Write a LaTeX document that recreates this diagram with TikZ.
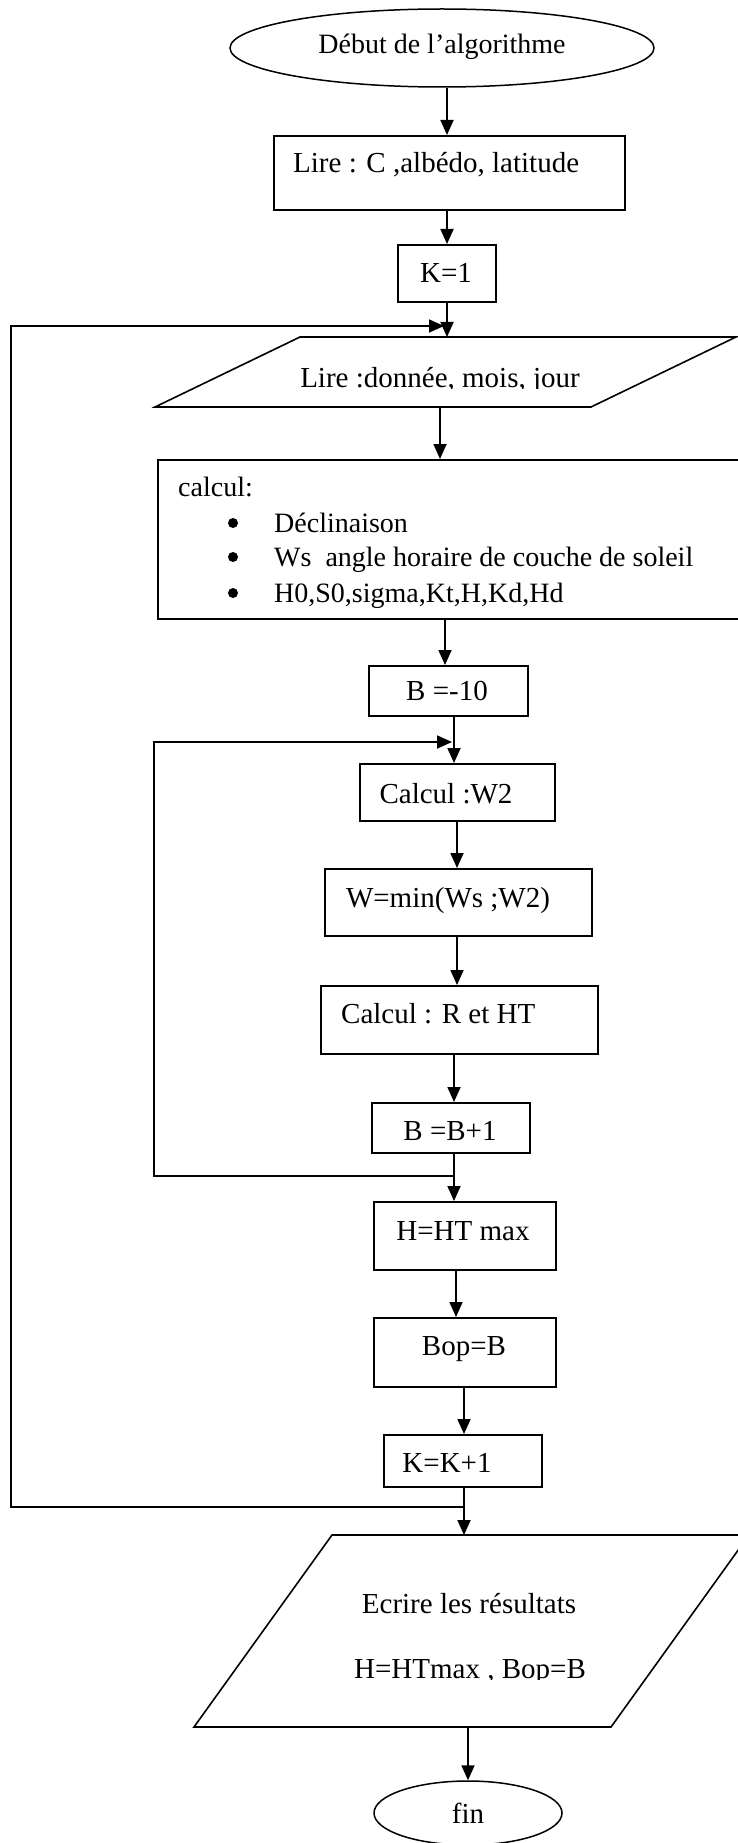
\documentclass[tikz,border=0pt]{standalone}
\usepackage{fontspec}
\setmainfont{Liberation Serif}
\usetikzlibrary{arrows.meta,shapes.geometric,calc}
\begin{document}
\begin{tikzpicture}[x=1pt,y=-1pt,
  box/.style={draw,line width=1.6pt,rectangle,inner sep=0pt,anchor=north west},
  oval/.style={draw,ellipse,line width=1.5pt,inner sep=0pt},
  shp/.style={draw,line width=1.6pt,line join=miter},
  con/.style={line width=1.8pt},
  arr/.style={con,-{Triangle[length=15pt,width=13pt]}},
  txt/.style={inner sep=0pt,anchor=base,font=\fontsize{29}{35}\selectfont},
  txtl/.style={txt,anchor=base west},
  itm/.style={txtl,font=\fontsize{28}{35}\selectfont}]
\useasboundingbox (0,0) rectangle (738,1843);
\clip (0,0) rectangle (738,1843);
% axes of the vertical connectors
\coordinate (axA) at (447,0);
\coordinate (axB) at (440,0);
\coordinate (axC) at (445,0);
\coordinate (axD) at (454,0);
\coordinate (axE) at (457,0);
\coordinate (axF) at (456,0);
\coordinate (axG) at (464,0);
\coordinate (axH) at (468,0);
% start
\node[oval,minimum width=424pt,minimum height=78pt] (start) at (442,48) {};
\node[txt,font=\fontsize{28}{34}\selectfont] (tstart) at (442,54) {Début de l’algorithme};
% Lire C
\node[box,minimum width=351pt,minimum height=74pt] (lire1) at (273,135) {};
\node[txtl] (tlire1) at (293,173) {Lire : C ,albédo, latitude};
% K=1
\node[box,minimum width=98pt,minimum height=57pt] (k1) at (397,244) {};
\node[txt] (tk1) at (446,283) {K=1};
% parallelogram 1
\draw[shp] (300,337) -- (736,337) -- (591,407) -- (155,407) -- cycle;
\coordinate (p1n) at (447,337);
\coordinate (p1s) at (440,407);
\begin{scope}
\clip (150,340) rectangle (740,388);
\node[txt] (tp1) at (440,387) {Lire :donnée, mois, jour};
\end{scope}
% calcul box
\node[box,minimum width=600pt,minimum height=159pt] (calc) at (157,459) {};
\node[itm] (tcalc) at (178,496) {calcul:};
\fill (233,523) circle (5pt);
\fill (233,557) circle (5pt);
\fill (233,593) circle (5pt);
\node[itm] (tc1) at (274,532) {Déclinaison};
\node[itm] (tc2) at (274,566) {Ws\ \ angle horaire de couche de soleil};
\node[itm] (tc3) at (274,602) {H0,S0,sigma,Kt,H,Kd,Hd};
% B=-10
\node[box,minimum width=159pt,minimum height=50pt] (b10) at (368,665) {};
\node[txt] (tb10) at (447,700) {B =-10};
% Calcul W2
\node[box,minimum width=195pt,minimum height=57pt] (w2) at (359,763) {};
\node[txt] (tw2) at (446,803) {Calcul :W2};
% W=min
\node[box,minimum width=267pt,minimum height=67pt] (wmin) at (324,868) {};
\node[txt] (twmin) at (448,907) {W=min(Ws ;W2)};
% Calcul R et HT
\node[box,minimum width=277pt,minimum height=68pt] (cr) at (320,985) {};
\node[txtl] (tcr) at (341,1023) {Calcul : R et HT};
% B=B+1
\node[box,minimum width=158pt,minimum height=50pt] (bb) at (371,1102) {};
\node[txt] (tbb) at (450,1140) {B =B+1};
% H=HT max
\node[box,minimum width=182pt,minimum height=68pt] (hh) at (373,1201) {};
\node[txt] (thh) at (463,1240) {H=HT max};
% Bop=B
\node[box,minimum width=182pt,minimum height=69pt] (bop) at (373,1317) {};
\node[txt] (tbop) at (464,1355) {Bop=B};
% K=K+1
\node[box,minimum width=158pt,minimum height=52pt] (kk) at (383,1434) {};
\node[txt] (tkk) at (447,1472) {K=K+1};
% parallelogram 2
\draw[shp] (332,1535) -- (749,1535) -- (611,1727) -- (194,1727) -- cycle;
\coordinate (p2n) at (464,1535);
\coordinate (p2s) at (468,1727);
\node[txt] (tp2a) at (469,1613) {Ecrire les résultats};
\begin{scope}
\clip (190,1630) rectangle (740,1679);
\node[txt] (tp2b) at (470,1678) {H=HTmax , Bop=B};
\end{scope}
% fin
\node[oval,minimum width=188pt,minimum height=64pt] (fin) at (468,1813) {};
\node[txt] (tfin) at (468,1823) {fin};
% connectors
\draw[arr] (start.south -| axA) -- (lire1.north -| axA);
\draw[arr] (lire1.south -| axA) -- (k1.north -| axA);
\draw[arr] (k1.south -| axA) -- (p1n);
\draw[arr] (p1s) -- (calc.north -| axB);
\draw[arr] (calc.south -| axC) -- (b10.north -| axC);
\draw[arr] (b10.south -| axD) -- (w2.north -| axD);
\draw[arr] (w2.south -| axE) -- (wmin.north -| axE);
\draw[arr] (wmin.south -| axE) -- (cr.north -| axE);
\draw[arr] (cr.south -| axD) -- (bb.north -| axD);
\draw[arr] (bb.south -| axD) -- (hh.north -| axD);
\coordinate (ilb) at (154,1176);
\coordinate (ilt) at (154,742);
\draw[arr] (ilb -| axD) -- (ilb) -- (ilt) -- ($(ilt -| axD)+(-2,0)$);
\draw[arr] (hh.south -| axF) -- (bop.north -| axF);
\draw[arr] (bop.south -| axG) -- (kk.north -| axG);
\draw[arr] (kk.south -| axG) -- (p2n);
\coordinate (olb) at (11,1507);
\coordinate (olt) at (11,326);
\draw[arr] (olb -| axG) -- (olb) -- (olt) -- ($(olt -| axA)+(-3,0)$);
\draw[arr] (p2s) -- (fin.north -| axH);
\end{tikzpicture}
\end{document}
